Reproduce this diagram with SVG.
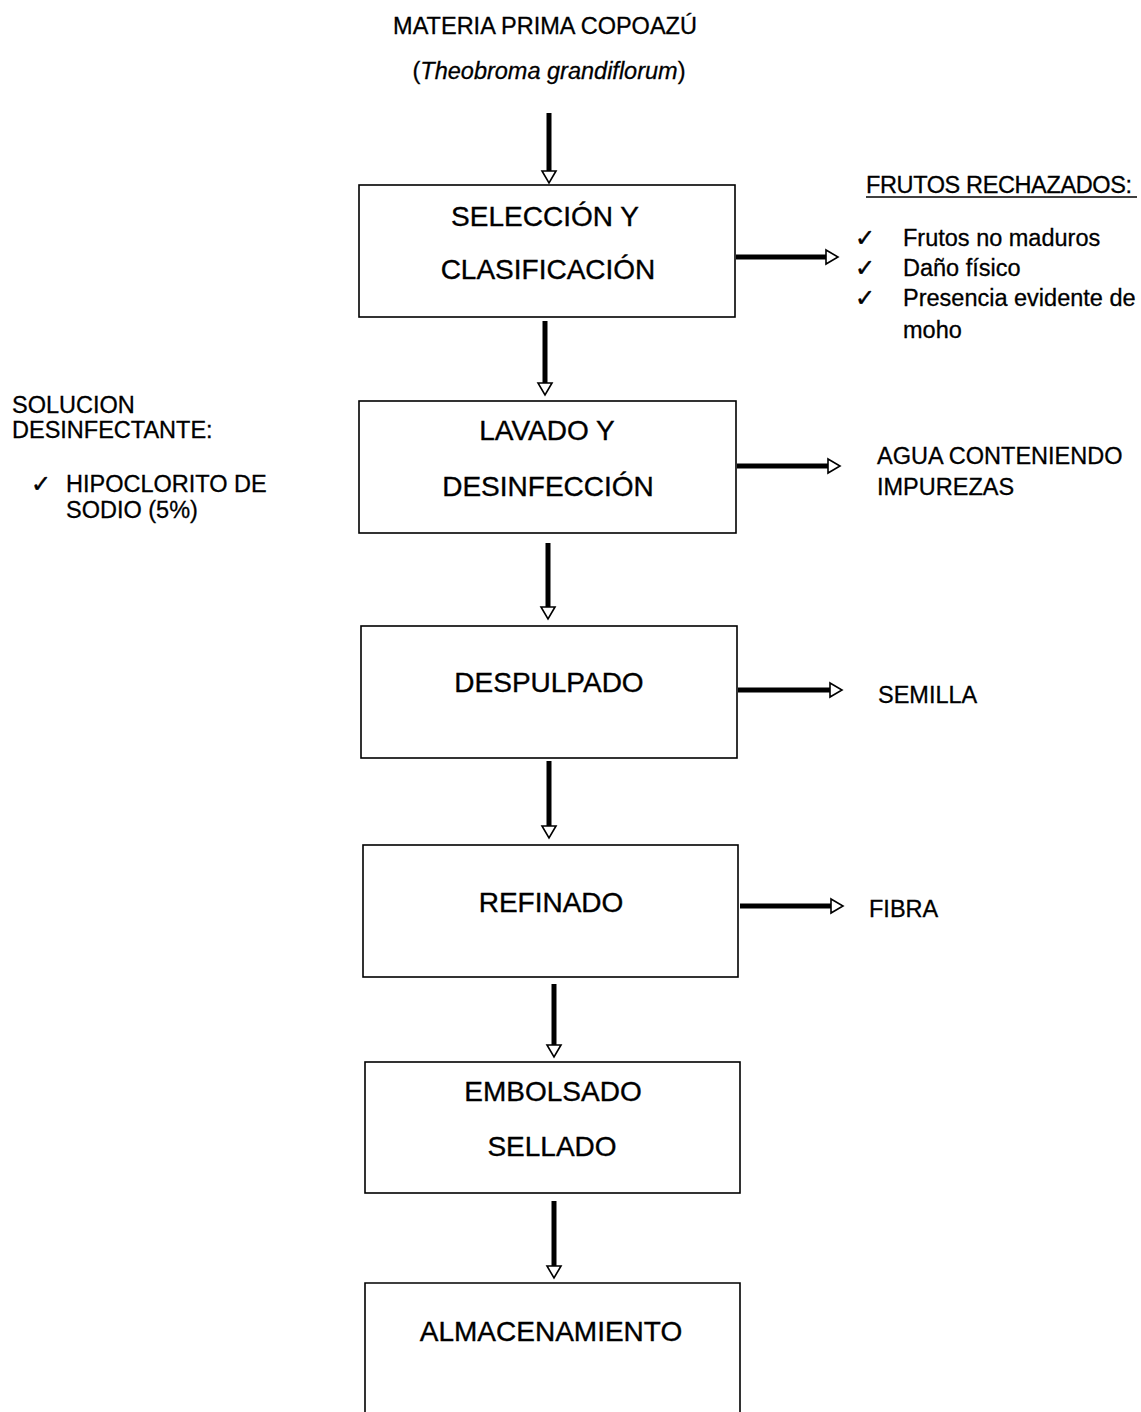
<svg xmlns="http://www.w3.org/2000/svg" width="1141" height="1412" viewBox="0 0 1141 1412">
  <style>
    .box { fill: #fff; stroke: #000; stroke-width: 1.6; }
    .step { font-family: "Liberation Sans", Arial, sans-serif; font-size: 28px; fill: #000; stroke: #000; stroke-width: 0.35; text-anchor: middle; }
    .lbl { font-family: "Liberation Sans", Arial, sans-serif; font-size: 23.5px; fill: #000; stroke: #000; stroke-width: 0.3; }
    .chk { font-family: "DejaVu Sans", sans-serif; font-size: 24px; fill: #000; stroke: #000; stroke-width: 0.5; }
    .flow { stroke: #000; stroke-width: 5; fill: none; marker-end: url(#head); }
  </style>
  <defs>
    <marker id="head" markerUnits="userSpaceOnUse" viewBox="-2 -9 16 18" refX="0" refY="0" markerWidth="16" markerHeight="18" orient="auto">
      <path d="M0,-7 L12,0 L0,7 Z" fill="#fff" stroke="#000" stroke-width="1.6"/>
    </marker>
  </defs>
  <rect width="1141" height="1412" fill="#fff"/>

  <!-- raw material heading -->
  <g id="materia-prima">
    <text class="lbl" x="545" y="34" text-anchor="middle" font-size="23.8">MATERIA PRIMA COPOAZÚ</text>
    <text class="lbl" x="549" y="79" text-anchor="middle" font-size="24.5">(<tspan font-style="italic">Theobroma grandiflorum</tspan>)</text>
  </g>

  <!-- process steps -->
  <g id="seleccion">
    <rect class="box" x="359" y="185" width="376" height="132"/>
    <text class="step" x="545" y="226">SELECCIÓN Y</text>
    <text class="step" x="548" y="279">CLASIFICACIÓN</text>
  </g>
  <g id="lavado">
    <rect class="box" x="359" y="401" width="377" height="132"/>
    <text class="step" x="547" y="440">LAVADO Y</text>
    <text class="step" x="548" y="496">DESINFECCIÓN</text>
  </g>
  <g id="despulpado">
    <rect class="box" x="361" y="626" width="376" height="132"/>
    <text class="step" x="549" y="692">DESPULPADO</text>
  </g>
  <g id="refinado">
    <rect class="box" x="363" y="845" width="375" height="132"/>
    <text class="step" x="551" y="912">REFINADO</text>
  </g>
  <g id="embolsado">
    <rect class="box" x="365" y="1062" width="375" height="131"/>
    <text class="step" x="553" y="1101">EMBOLSADO</text>
    <text class="step" x="552" y="1156">SELLADO</text>
  </g>
  <g id="almacenamiento">
    <path class="box" d="M365,1420 V1283 H740 V1420"/>
    <text class="step" x="551" y="1341">ALMACENAMIENTO</text>
  </g>

  <!-- side inputs and outputs -->
  <g id="frutos-rechazados">
    <text class="lbl" x="866" y="193" textLength="266">FRUTOS RECHAZADOS:</text>
    <line x1="866" y1="197" x2="1137" y2="197" stroke="#000" stroke-width="1.6"/>
    <text class="chk" x="855" y="246">✓</text>
    <text class="lbl" x="903" y="246" font-size="22.3">Frutos no maduros</text>
    <text class="chk" x="855" y="276">✓</text>
    <text class="lbl" x="903" y="276" font-size="22.3">Daño físico</text>
    <text class="chk" x="855" y="306">✓</text>
    <text class="lbl" x="903" y="306" font-size="22.3">Presencia evidente de</text>
    <text class="lbl" x="903" y="338" font-size="22.3">moho</text>
  </g>
  <g id="solucion-desinfectante">
    <text class="lbl" x="12" y="413">SOLUCION</text>
    <text class="lbl" x="12" y="438">DESINFECTANTE:</text>
    <text class="chk" x="31" y="492">✓</text>
    <text class="lbl" x="66" y="492">HIPOCLORITO DE</text>
    <text class="lbl" x="66" y="518">SODIO (5%)</text>
  </g>
  <g id="agua">
    <text class="lbl" x="877" y="464">AGUA CONTENIENDO</text>
    <text class="lbl" x="877" y="495">IMPUREZAS</text>
  </g>
  <g id="semilla">
    <text class="lbl" x="878" y="703">SEMILLA</text>
  </g>
  <g id="fibra">
    <text class="lbl" x="869" y="917">FIBRA</text>
  </g>

  <!-- connectors -->
  <g id="connectors">
    <line class="flow" x1="549" y1="113" x2="549" y2="171"/>
    <line class="flow" x1="545" y1="321" x2="545" y2="383"/>
    <line class="flow" x1="548" y1="543" x2="548" y2="607"/>
    <line class="flow" x1="549" y1="761" x2="549" y2="826"/>
    <line class="flow" x1="554" y1="984" x2="554" y2="1045"/>
    <line class="flow" x1="554" y1="1201" x2="554" y2="1266"/>
    <line class="flow" x1="736" y1="257" x2="826" y2="257"/>
    <line class="flow" x1="737" y1="466" x2="828" y2="466"/>
    <line class="flow" x1="738" y1="690" x2="830" y2="690"/>
    <line class="flow" x1="740" y1="906" x2="831" y2="906"/>
  </g>
</svg>
